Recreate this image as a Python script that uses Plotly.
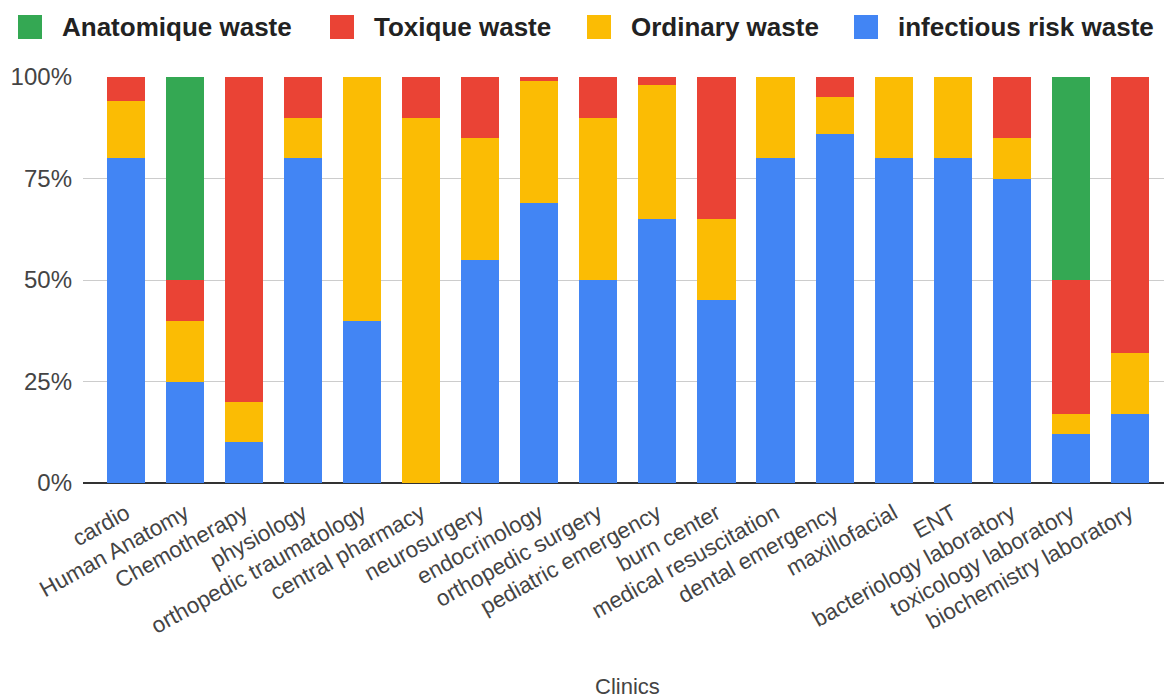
import plotly.graph_objects as go

# Clinics and the share (%) of each waste category they produce
clinics = [
    "cardio", "Human Anatomy", "Chemotherapy", "physiology",
    "orthopedic traumatology", "central pharmacy", "neurosurgery",
    "endocrinology", "orthopedic surgery", "pediatric emergency",
    "burn center", "medical resuscitation", "dental emergency",
    "maxillofacial", "ENT", "bacteriology laboratory",
    "toxicology laboratory", "biochemistry laboratory",
]
infectious_risk = [80, 25, 10, 80, 40, 0, 55, 69, 50, 65, 45, 80, 86, 80, 80, 75, 12, 17]
ordinary = [14, 15, 10, 10, 60, 90, 30, 30, 40, 33, 20, 20, 9, 20, 20, 10, 5, 15]
toxique = [6, 10, 80, 10, 0, 10, 15, 1, 10, 2, 35, 0, 5, 0, 0, 15, 33, 68]
anatomique = [0, 50, 0, 0, 0, 0, 0, 0, 0, 0, 0, 0, 0, 0, 0, 0, 50, 0]

y_ticks = [0, 25, 50, 75, 100]
y_tick_labels = ["0%", "25%", "50%", "75%", "100%"]

series_names = ["infectious risk waste", "Ordinary waste", "Toxique waste", "Anatomique waste"]
series_values = [infectious_risk, ordinary, toxique, anatomique]
series_colors = ["#4285F4", "#FBBC04", "#EA4335", "#34A853"]

W, H = 1164, 700
L, R, T, B = 83, 0, 77, 217
PW, PH = W - L - R, H - T - B

FONT = "Liberation Sans, Arial, sans-serif"

fig = go.Figure()
for name, vals, col in zip(series_names, series_values, series_colors):
    fig.add_trace(go.Bar(
        x=clinics, y=vals, name=name, marker=dict(color=col, line=dict(width=0)),
        showlegend=False,
    ))


def px_x(px):
    return (px - L) / PW


def px_y(py):
    return (H - B - py) / PH


# Legend drawn across the top: square swatch followed by its label
legend_order = ["Anatomique waste", "Toxique waste", "Ordinary waste", "infectious risk waste"]
legend_swatch_left = [18, 330, 587, 854]
swatch = 24
shapes, annotations = [], []
for name, x0 in zip(legend_order, legend_swatch_left):
    col = series_colors[series_names.index(name)]
    shapes.append(dict(
        type="rect", xref="paper", yref="paper",
        x0=px_x(x0), x1=px_x(x0 + swatch), y0=px_y(15 + swatch), y1=px_y(15),
        fillcolor=col, line=dict(width=0), layer="above",
    ))
    annotations.append(dict(
        text=f"<b>{name}</b>", xref="paper", yref="paper",
        x=px_x(x0 + swatch + 18), y=px_y(27), xanchor="left", yanchor="middle",
        showarrow=False, font=dict(family=FONT, size=26, color="#222222"),
    ))

annotations.append(dict(
    text="Clinics", xref="paper", yref="paper", x=px_x(627), y=px_y(686),
    xanchor="center", yanchor="middle", showarrow=False,
    font=dict(family=FONT, size=22, color="#444444"),
))

fig.update_layout(
    width=W, height=H,
    margin=dict(l=L, r=R, t=T, b=B, pad=0),
    barmode="stack", bargap=0.355,
    plot_bgcolor="white", paper_bgcolor="white",
    showlegend=False,
    shapes=shapes, annotations=annotations,
    font=dict(family=FONT, color="#444444"),
)
fig.update_xaxes(
    range=[-0.73, 17.58], tickangle=-29, showgrid=False, ticks="",
    ticklabelstandoff=12,
    tickfont=dict(family=FONT, size=22.5, color="#444444"), showline=False,
)
fig.update_yaxes(
    range=[0, 100], tickmode="array", tickvals=y_ticks, ticktext=y_tick_labels,
    showgrid=True, gridcolor="#cccccc", gridwidth=1,
    zeroline=True, zerolinecolor="#333333", zerolinewidth=2,
    ticks="", ticklabelstandoff=10,
    tickfont=dict(family=FONT, size=24, color="#444444"), showline=False,
)

fig.write_html("out.html")
